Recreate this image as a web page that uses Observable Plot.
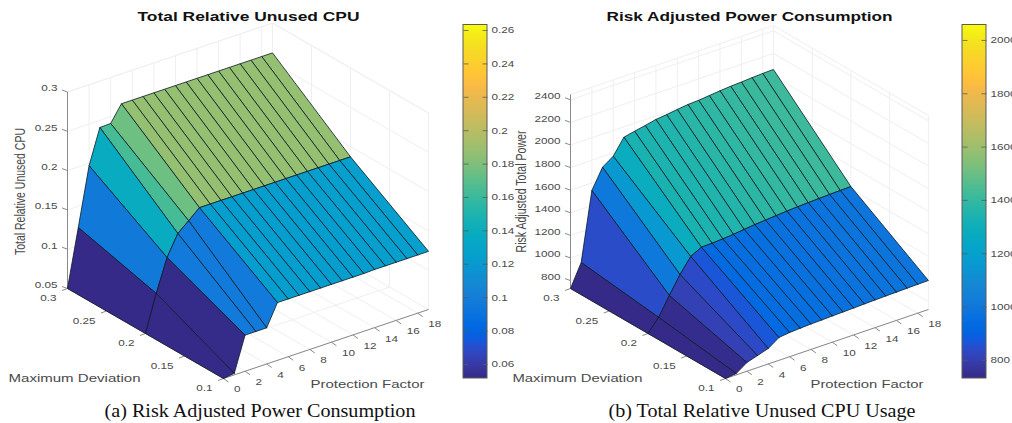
<!DOCTYPE html>
<html><head><meta charset="utf-8">
<script src="https://cdn.jsdelivr.net/npm/d3@7"></script>
<script src="https://cdn.jsdelivr.net/npm/@observablehq/plot@0.6"></script>
<style>
html,body{margin:0;padding:0;background:#fff}
#fig{display:flex;width:1012px;height:423px;overflow:hidden}
svg{display:block;flex:none}
</style></head><body><div id="fig"></div>
<script>
// ---- data ----
const protectionFactorIndex = [0,1,2,3,4,5,6,7,8,9,10,11,12,13,14,15,16,17,18,19];
const maximumDeviation = [0.1,0.2,0.3];
const protectionTicks = [0,2,4,6,8,10,12,14,16,18];
const deviationTicks = [0.1,0.15,0.2,0.25,0.3];

const cpuDev01 = [.05,.052,.096,.096,.096,.1235,.1235,.1235,.1235,.1235,.1235,.1235,.1235,.1235,.124,.124,.124,.124,.124,.124];
const cpuDev02 = [.05,.0963,.1374,.1634,.175,.187,.187,.187,.187,.187,.187,.187,.187,.187,.187,.187,.187,.187,.187,.187];
const cpuDev03 = [.05,.123,.197,.241,.2415,.262,.262,.262,.262,.262,.262,.262,.262,.262,.262,.262,.262,.262,.262,.262];
const cpuZTicks = [0.05,0.1,0.15,0.2,0.25,0.3];
const cpuBarTicks = [0.06,0.08,0.1,0.12,0.14,0.16,0.18,0.2,0.22,0.24,0.26];

const powerDev01 = [730,742,807,837,867,932,944,950,955,958,962,965,968,972,975,978,980,983,985,987];
const powerDev02 = [730,840,1002,1155,1283,1333,1336,1342,1350,1362,1372,1380,1388,1395,1401,1406,1410,1414,1417,1420];
const powerDev03 = [730,928,1533,1707,1772,1908,1929,1948,1969,1980,1993,2005,2010,2020,2030,2038,2043,2050,2055,2058];
const powerZTicks = [800,1000,1200,1400,1600,1800,2000,2200,2400];
const powerBarTicks = [800,1000,1200,1400,1600,1800,2000];

const parulaStops = [
[.2081,.1663,.5292],[.2116,.1898,.5777],[.2123,.2138,.6270],[.2081,.2386,.6771],[.1959,.2645,.7279],[.1707,.2919,.7792],[.1253,.3242,.8303],[.0591,.3598,.8683],
[.0117,.3875,.8820],[.0060,.4086,.8828],[.0165,.4266,.8786],[.0329,.4430,.8720],[.0498,.4586,.8641],[.0629,.4737,.8554],[.0723,.4887,.8467],[.0779,.5040,.8384],
[.0793,.5200,.8312],[.0749,.5375,.8263],[.0641,.5570,.8240],[.0488,.5772,.8228],[.0343,.5966,.8199],[.0265,.6137,.8135],[.0239,.6287,.8038],[.0231,.6418,.7913],
[.0228,.6535,.7768],[.0267,.6642,.7607],[.0384,.6743,.7436],[.0590,.6838,.7254],[.0843,.6928,.7062],[.1133,.7015,.6859],[.1453,.7098,.6646],[.1801,.7177,.6424],
[.2178,.7250,.6193],[.2586,.7317,.5954],[.3022,.7376,.5712],[.3482,.7424,.5473],[.3953,.7459,.5244],[.4420,.7481,.5033],[.4871,.7491,.4840],[.5300,.7491,.4661],
[.5709,.7485,.4494],[.6099,.7473,.4337],[.6473,.7456,.4188],[.6834,.7435,.4044],[.7184,.7411,.3905],[.7525,.7384,.3768],[.7858,.7356,.3633],[.8185,.7327,.3498],
[.8507,.7299,.3360],[.8824,.7274,.3217],[.9139,.7258,.3063],[.9450,.7261,.2886],[.9739,.7314,.2666],[.9938,.7455,.2403],[.9990,.7653,.2164],[.9955,.7861,.1967],
[.9880,.8066,.1794],[.9789,.8271,.1633],[.9697,.8481,.1475],[.9626,.8705,.1309],[.9589,.8949,.1132],[.9598,.9218,.0948],[.9661,.9514,.0755],[.9763,.9831,.0538]];
const parula = d3.piecewise(d3.interpolateRgb, parulaStops.map(c => d3.rgb(c[0]*255,c[1]*255,c[2]*255)));

const FONT = "Liberation Sans, Arial, sans-serif";
const GRID = "#efefef", AXIS = "#8a8a8a", INK = "#4a4a4a";

function panel(c){
  // orthographic view of (protection index, deviation, value) onto the page
  const px = (x,d) => c.ox + c.kx*x - c.kd*(d-0.1);
  const py = (x,d,z) => c.oy - 3.63*x - 450*(d-0.1) - c.kz*(z-c.zFloor);
  const rows = c.rows, zF = c.zFloor, zT = c.zTop, xM = 19, dA = 0.1, dB = 0.3;

  // surface quads, far to near; colour comes from the cell's lowest-index corner
  const verts = [];
  for (let j = rows.length-2; j >= 0; j--)
    for (let i = protectionFactorIndex.length-2; i >= 0; i--){
      const id = `${j}-${i}`;
      const corners = [[i,j],[i+1,j],[i+1,j+1],[i,j+1],[i,j]];
      for (const [a,b] of corners){
        const p = protectionFactorIndex[a], d = maximumDeviation[b];
        verts.push({id, v: rows[j][i], X: px(p,d), Y: py(p,d,rows[b][a])});
      }
    }

  // back walls and floor grid
  const seg = (x1,d1,z1,x2,d2,z2) => ({a:px(x1,d1),b:py(x1,d1,z1),e:px(x2,d2),f:py(x2,d2,z2)});
  const grid = [];
  for (const t of protectionTicks){
    grid.push(seg(t,dA,zF,t,dB,zF), seg(t,dB,zF,t,dB,zT));
  }
  for (const t of deviationTicks){
    grid.push(seg(0,t,zF,xM,t,zF), seg(xM,t,zF,xM,t,zT));
  }
  for (const t of c.zTicks.concat([zT])){
    grid.push(seg(0,dB,t,xM,dB,t), seg(xM,dB,t,xM,dA,t));
  }
  const axes = [seg(0,dB,zF,0,dB,zT), seg(0,dB,zF,0,dA,zF), seg(0,dA,zF,xM,dA,zF)];
  const ticks = [];
  for (const t of protectionTicks){ const s = seg(t,dA,zF,t,dA,zF); ticks.push({a:s.a,b:s.b,e:s.a+5,f:s.b+3.5}); }
  for (const t of deviationTicks){ const s = seg(0,t,zF,0,t,zF); ticks.push({a:s.a,b:s.b,e:s.a-5.5,f:s.b+2}); }
  for (const t of c.zTicks){ const s = seg(0,dB,t,0,dB,t); ticks.push({a:s.a,b:s.b,e:s.a-5.5,f:s.b-2}); }

  const xLabels = protectionTicks.map(t => ({t:String(t), X:px(t,dA)+10.5, Y:py(t,dA,zF)+11}));
  const dLabels = deviationTicks.map(t => ({t:String(t), X:px(0,t)-11, Y:py(0,t,zF)+10}));
  const zLabels = c.zTicks.map(t => ({t:String(t), X:px(0,dB)-10, Y:py(0,dB,t)-3.5}));

  // colour bar
  const barY = d3.scaleLinear().domain(c.clim).range([378,24.5]);
  const strip = d3.range(24,378).map(r => ({r, v: barY.invert(r+0.5)}));
  const barLabels = c.barTicks.map(v => ({t:String(v), X:c.barX+28, Y:barY(v)}));
  const barTickSegs = c.barTicks.flatMap(v => [
    {a:c.barX+24,b:barY(v),e:c.barX+19,f:barY(v)},
    {a:c.barX,b:barY(v),e:c.barX+5,f:barY(v)}]);

  const link = (data,o) => Plot.link(data,{x1:"a",y1:"b",x2:"e",y2:"f",...o});
  const label = (data,anchor) => Plot.text(data,{x:"X",y:"Y",text:"t",textAnchor:anchor,fontSize:9,fill:INK,fontFamily:FONT,className:"wide"});

  return Plot.plot({
    width:c.right-c.left, height:423, margin:0,
    style:{background:"transparent",overflow:"visible"},
    x:{axis:null,domain:[c.left,c.right],range:[0,c.right-c.left]},
    y:{axis:null,domain:[0,423],range:[0,423]},
    color:{type:"linear",domain:c.clim,interpolate:parula,clamp:true},
    marks:[
      link(grid,{stroke:GRID,strokeWidth:1}),
      link(axes,{stroke:AXIS,strokeWidth:1}),
      link(ticks,{stroke:AXIS,strokeWidth:1}),
      Plot.line(verts,{x:"X",y:"Y",z:"id",fill:"v",stroke:"#0a1a24",strokeWidth:0.8,curve:"linear",strokeLinejoin:"round"}),
      Plot.rect(strip,{x1:()=>c.barX,x2:()=>c.barX+24,y1:d=>d.r,y2:d=>d.r+1,fill:"v"}),
      link(barTickSegs,{stroke:"#5a5a5a",strokeWidth:0.8}),
      Plot.rect([c.barX],{x1:d=>d,x2:d=>d+24,y1:()=>24.5,y2:()=>378,fill:"none",stroke:"#5a5a5a",strokeWidth:1}),
      label(xLabels,"start"),
      label(dLabels,"end"),
      label(zLabels,"end"),
      label(barLabels,"start"),
      Plot.text([c.xTitle],{x:()=>c.xTitleX,y:()=>384,text:d=>d,textAnchor:"start",fontSize:10,fill:INK,fontFamily:FONT,className:"wide"}),
      Plot.text([c.dTitle],{x:()=>c.dTitleX,y:()=>378,text:d=>d,textAnchor:"start",fontSize:10,fill:INK,fontFamily:FONT,className:"wide"}),
      Plot.text([c.zTitle],{x:()=>c.zTitleX,y:()=>191,text:d=>d,rotate:-90,fontSize:15,fill:INK,fontFamily:FONT,className:"rot"}),
      Plot.text([c.title],{x:()=>c.titleX,y:()=>16,text:d=>d,fontSize:12.5,fontWeight:"bold",fill:"#111",fontFamily:FONT,className:"title"}),
      Plot.text([c.caption],{x:()=>c.capX,y:()=>411,text:d=>d,fontSize:18.5,fill:"#111",fontFamily:"Liberation Serif, Times New Roman, serif",className:"cap"})
    ]
  });
}

const fig = document.getElementById("fig");
const left = panel({left:0,right:511,ox:223,oy:378,kx:10.79,kd:780,kz:786,zFloor:0.05,zTop:0.3,
  rows:[cpuDev01,cpuDev02,cpuDev03],zTicks:cpuZTicks,barTicks:cpuBarTicks,clim:[0.0516,0.2633],barX:463,
  title:"Total Relative Unused CPU",titleX:248,zTitle:"Total Relative Unused CPU",zTitleX:20,
  xTitle:"Protection Factor",xTitleX:310,dTitle:"Maximum Deviation",dTitleX:8,
  caption:"(a) Risk Adjusted Power Consumption",capX:259.5});
const right = panel({left:511,right:1012,ox:725,oy:378,kx:10.68,kd:775,kz:0.113,zFloor:730,zTop:2447,
  rows:[powerDev01,powerDev02,powerDev03],zTicks:powerZTicks,barTicks:powerBarTicks,clim:[732,2058],barX:962,
  title:"Risk Adjusted Power Consumption",titleX:749,zTitle:"Risk Adjusted Total Power",zTitleX:521,
  xTitle:"Protection Factor",xTitleX:810,dTitle:"Maximum Deviation",dTitleX:512,
  caption:"(b) Total Relative Unused CPU Usage",capX:761.5});
fig.append(left,right);

// the reference figure is stretched sideways: reproduce that on the real text
function widen(svg,widths){
  const set=(sel,fn)=>svg.querySelectorAll(sel).forEach(t=>{
    t.setAttribute("textLength",fn(t));t.setAttribute("lengthAdjust","spacingAndGlyphs");});
  set(".wide text",t=>t.getComputedTextLength()*1.3);
  set(".title text",()=>widths.title);
  set(".rot text",()=>widths.rot);
  set(".cap text",()=>widths.cap);
  svg.querySelectorAll(".wide text").forEach(t=>{
    if(t.textContent==="Protection Factor")t.setAttribute("textLength",widths.x);
    if(t.textContent==="Maximum Deviation")t.setAttribute("textLength",widths.d);
  });
}
widen(left,{title:222,rot:127,cap:311,x:114,d:132});
widen(right,{title:286,rot:122,cap:307,x:113,d:130});
</script></body></html>
